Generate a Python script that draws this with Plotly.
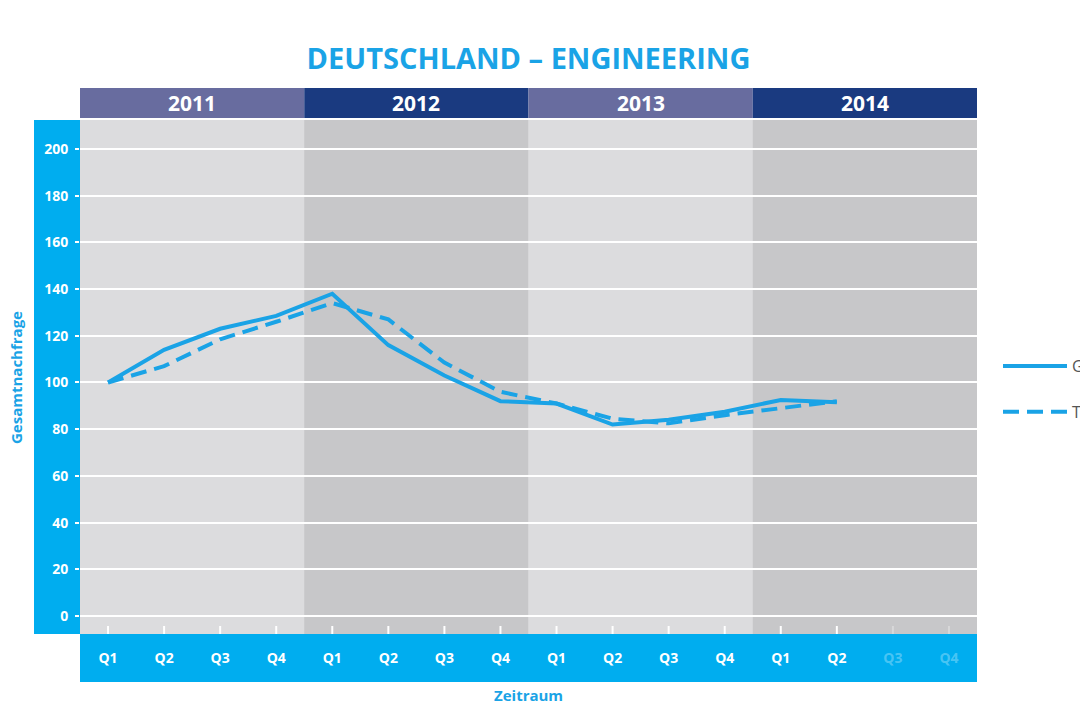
import plotly.graph_objects as go

years = ["2011", "2012", "2013", "2014"]
quarters = ["Q1", "Q2", "Q3", "Q4"]
categories = [f"{y} {q}" for y in years for q in quarters]
quarter_labels = quarters * 4
active_quarters = 14  # data available up to 2014 Q2

solid_values = [100, 114, 123, 128.5, 138, 116, 103, 92, 91, 82, 84, 87.5, 92.5, 91.5]
dashed_values = [100, 107, 118.5, 126, 134, 127, 108.5, 96, 91, 84.5, 82.5, 86, 89, 92]

series_names = ["Gesamtnachfrage", "Trend"]

BLUE = "#00adef"
LINE = "#1aa3e6"
FONT = "Open Sans"

x_idx = list(range(len(categories)))

fig = go.Figure()
fig.add_trace(go.Scatter(x=x_idx[:len(solid_values)], y=solid_values, mode="lines",
                         name=series_names[0], legendgroup="a",
                         line=dict(color=LINE, width=4)))
fig.add_trace(go.Scatter(x=x_idx[:len(dashed_values)], y=dashed_values, mode="lines",
                         name=series_names[1], legendgroup="b",
                         line=dict(color=LINE, width=4, dash="16px,8px")))

shapes = []
band_light = "#dcdcde"
band_dark = "#c7c7c9"
head_light = "#686c9f"
head_dark = "#1a3a80"
plot_h = 514.0
plot_w = 897.0
for i, yr in enumerate(years):
    x0 = i * 4 - 0.5
    x1 = i * 4 + 3.5
    shapes.append(dict(type="rect", xref="x", yref="paper", x0=x0, x1=x1, y0=0, y1=1,
                       fillcolor=band_light if i % 2 == 0 else band_dark,
                       line=dict(width=0), layer="below"))
    shapes.append(dict(type="rect", xref="x", yref="paper", x0=x0, x1=x1,
                       y0=1 + 2 / plot_h, y1=1 + 32 / plot_h,
                       fillcolor=head_light if i % 2 == 0 else head_dark,
                       line=dict(width=0), layer="below"))
# left blue band (y axis)
shapes.append(dict(type="rect", xref="paper", yref="paper", x0=-46 / plot_w, x1=0,
                   y0=0, y1=1, fillcolor=BLUE, line=dict(width=0), layer="below"))
# bottom blue band (x axis)
shapes.append(dict(type="rect", xref="x", yref="paper", x0=-0.5, x1=len(categories) - 0.5,
                   y0=-48 / plot_h, y1=0, fillcolor=BLUE, line=dict(width=0), layer="below"))
# x tick marks
for i in x_idx:
    col = "white" if i < active_quarters else "rgba(255,255,255,0.3)"
    shapes.append(dict(type="line", xref="x", yref="paper", x0=i, x1=i,
                       y0=0, y1=8 / plot_h, line=dict(color=col, width=2), layer="above"))

ticktext = []
for i, q in enumerate(quarter_labels):
    if i < active_quarters:
        ticktext.append(q)
    else:
        ticktext.append(f"<span style='color:rgba(255,255,255,0.3)'>{q}</span>")

annotations = []
for i, yr in enumerate(years):
    annotations.append(dict(text=yr, xref="x", yref="paper", x=i * 4 + 1.5,
                            y=1 + 17 / plot_h, showarrow=False,
                            font=dict(family=FONT, size=21, color="white", weight="bold"),
                            yanchor="middle", xanchor="center"))
annotations.append(dict(text="Gesamtnachfrage", xref="paper", yref="paper",
                        x=-64 / plot_w, y=(634 - 378) / plot_h, textangle=-90,
                        showarrow=False, xanchor="center", yanchor="middle",
                        font=dict(family=FONT, size=15, color=LINE, weight="bold")))
annotations.append(dict(text="Zeitraum", xref="paper", yref="paper",
                        x=0.5, y=-61 / plot_h, showarrow=False,
                        xanchor="center", yanchor="middle",
                        font=dict(family=FONT, size=15, color=LINE, weight="bold")))

fig.update_layout(
    width=1080, height=720,
    margin=dict(l=80, r=103, t=120, b=86, autoexpand=False),
    paper_bgcolor="white",
    plot_bgcolor=band_light,
    title=dict(text="DEUTSCHLAND – ENGINEERING", x=0.5, xref="paper",
               y=(720 - 59) / 720, yref="container", yanchor="middle", xanchor="center",
               font=dict(family=FONT, size=29, color=LINE, weight="bold")),
    shapes=shapes,
    annotations=annotations,
    showlegend=True,
    legend=dict(x=1 + 21 / plot_w, y=(634 - 389) / plot_h, xanchor="left", yanchor="middle",
                font=dict(family=FONT, size=16, color="#555555"),
                itemwidth=64, tracegroupgap=22, bgcolor="rgba(0,0,0,0)"),
    xaxis=dict(range=[-0.5, len(categories) - 0.5], tickmode="array",
               tickvals=x_idx, ticktext=ticktext, showgrid=False, zeroline=False,
               ticks="", ticklabelstandoff=14, showline=False, fixedrange=True,
               tickfont=dict(family=FONT, size=14, color="white", weight="bold")),
    yaxis=dict(range=[-7.7, 212.4], tickmode="array", tickvals=list(range(0, 201, 20)),
               showgrid=True, gridcolor="white", gridwidth=2, zeroline=False,
               ticks="outside", ticklen=4, tickcolor="white", tickwidth=2,
               ticklabelstandoff=4, showline=False,
               tickfont=dict(family=FONT, size=14, color="white", weight="bold")),
)

fig.write_html("out.html")
